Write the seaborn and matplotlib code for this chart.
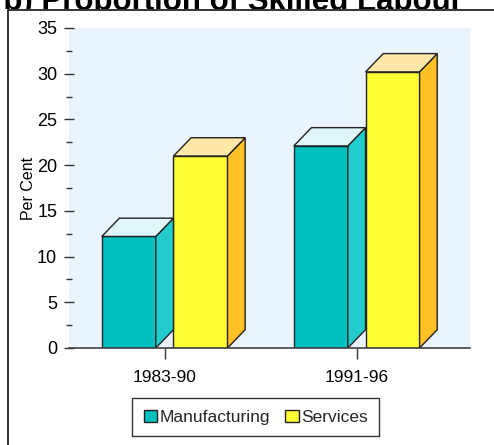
import numpy as np
import pandas as pd
import seaborn as sns
import matplotlib
matplotlib.use("Agg")
import matplotlib.pyplot as plt
from matplotlib.patches import Polygon, Patch, Rectangle
from matplotlib.transforms import Bbox, TransformedBbox
from matplotlib.ticker import MultipleLocator

# ---- data ----
periods = ["1983-90", "1991-96"]
sectors = ["Manufacturing", "Services"]
manufacturing = [12.2, 22.1]
services = [21.0, 30.2]
yticks = [0, 5, 10, 15, 20, 25, 30, 35]
title = "(b) Proportion of Skilled Labour"
ylabel = "Per Cent"

df = pd.DataFrame({
    "period": periods * 2,
    "sector": [sectors[0]] * 2 + [sectors[1]] * 2,
    "value": manufacturing + services,
})

front = {"Manufacturing": "#00C0C0", "Services": "#FFFF33"}
side = {"Manufacturing": "#22CCCC", "Services": "#FFC125"}
top = {"Manufacturing": "#E0F7F7", "Services": "#FFE7A8"}
edge = "#222222"

sns.set_theme(style="white")
plt.rcParams["font.family"] = ["Liberation Sans", "DejaVu Sans"]

W, H = 494, 445
fig = plt.figure(figsize=(W / 100, H / 100), dpi=100)
ax = fig.add_axes([69 / W, 1 - 348 / H, (470 - 69) / W, (348 - 28) / H])
ax.set_facecolor("#EAF4FE")

sns.barplot(data=df, x="period", y="value", hue="sector",
            palette=[front[s] for s in sectors], width=0.747, gap=0.247,
            edgecolor=edge, linewidth=1.0, saturation=1, legend=False, ax=ax)

ax.set_xlim(-0.498, 1.59)
ax.set_ylim(0, 35)

# 3D faces
dx, dy = 0.092, 2.0
bars = list(ax.patches)
for i, p in enumerate(bars):
    s = sectors[i // 2]
    x0 = p.get_x(); w = p.get_width(); h = p.get_height(); x1 = x0 + w
    sd = Polygon([(x1, 0), (x1 + dx, dy), (x1 + dx, h + dy), (x1, h)], closed=True,
                 facecolor=side[s], edgecolor=edge, linewidth=1.0, zorder=p.get_zorder())
    tp = Polygon([(x0, h), (x0 + dx, h + dy), (x1 + dx, h + dy), (x1, h)], closed=True,
                 facecolor=top[s], edgecolor=edge, linewidth=1.0, zorder=p.get_zorder())
    ax.add_patch(sd)
    ax.add_patch(tp)

for sp in ["left", "top", "right"]:
    ax.spines[sp].set_visible(False)
ax.spines["bottom"].set_color("#404040")
ax.spines["bottom"].set_linewidth(1.2)
ax.spines["bottom"].set_zorder(5)

ax.set_yticks(yticks)
ax.yaxis.set_minor_locator(MultipleLocator(2.5))
ax.tick_params(axis="y", which="major", direction="inout", length=7, width=1,
               color="#333333", labelsize=13, labelcolor="black", pad=5, left=True)
ax.tick_params(axis="y", which="minor", direction="inout", length=4, width=1,
               color="#333333", left=True)
ax.tick_params(axis="x", which="major", direction="out", length=8, width=1,
               color="#333333", labelsize=12.5, labelcolor="black", pad=8, bottom=True)
ax.set_xlabel("")
ax.set_ylabel(ylabel, fontsize=11.5, color="black", labelpad=1)

# legend
handles = [Patch(facecolor=front[s], edgecolor=edge, linewidth=1.0, label=s) for s in sectors]
leg = fig.legend(handles=handles, loc="center", bbox_to_anchor=(255.8 / W, 1 - 417.4 / H),
                 ncol=2, fontsize=12.5, frameon=True, fancybox=False, handlelength=0.75,
                 handleheight=0.75, handletextpad=0.15, columnspacing=0.9, borderpad=0.65)
leg.get_frame().set_edgecolor("black")
leg.get_frame().set_linewidth(1.0)

# outer frame (clipped by figure edges)
fig.patches.append(Rectangle((8 / W, -0.1), 1.2, 1 - 10 / H + 0.1, transform=fig.transFigure,
                             fill=False, edgecolor="#111111", linewidth=1.2))

# title, clipped at the frame top
t = fig.text(228 / W, 1 - 10 / H, title, ha="center", va="baseline",
             fontsize=22.5, fontweight="bold", color="black")
t.set_clip_on(True)
t.set_clip_box(TransformedBbox(Bbox([[0, 1 - 9 / H], [1, 1.2]]), fig.transFigure))

fig.savefig("out.png", dpi=100)
